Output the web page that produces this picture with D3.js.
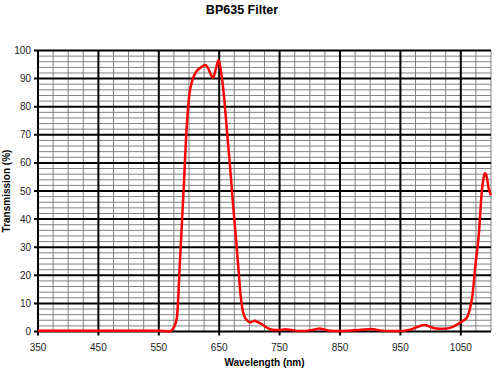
<!DOCTYPE html>
<html>
<head>
<meta charset="utf-8">
<script src="https://cdn.jsdelivr.net/npm/d3@7"></script>
<style>
html,body{margin:0;padding:0;background:#fff;}
svg{display:block;font-family:"Liberation Sans",Arial,sans-serif;}
</style>
</head>
<body>
<svg id="c" width="500" height="375"></svg>
<script>
const wavelength = [350,400,450,500,550,560,568,575,580,585,591,596,601,605,612,620,627,632,636,640,644,649,652,658,663,668,673,678,682,685,689,692,696,701,705,709,714,720,727,734,742,750,760,770,783,800,810,816,825,833,849,865,882,902,916,935,949,960,970,980,990,1000,1009,1020,1030,1040,1047,1055,1061,1065,1069,1074,1080,1085,1088,1090,1093,1096,1100];
const transmission = [0.3,0.3,0.3,0.3,0.3,0.2,0,1.5,5,25,50,72,85,89,92.5,94,94.8,93.5,91.5,90.3,93,96.6,94,83.6,71,58.6,45,32.6,22,13.7,7.5,5.3,4,3.3,3.6,3.8,3.3,2.7,1.6,0.8,0.5,0.5,0.8,0.5,0.2,0.4,0.8,1.1,0.6,0.3,0.2,0.3,0.5,0.9,0.4,0.2,0.2,0.4,0.9,1.8,2.3,1.6,1.1,1.0,1.2,2.0,2.9,4,5.3,8,12.4,23.1,35,50.3,55,56.3,55,51,48.5];
const xTicks = [350,450,550,650,750,850,950,1050];
const yTicks = [0,10,20,30,40,50,60,70,80,90,100];
const title = "BP635 Filter";
const xTitle = "Wavelength (nm)";
const yTitle = "Transmission (%)";

const svg = d3.select("#c");
const L = 38, R = 491, T = 50.5, B = 331.5;
const x = d3.scaleLinear().domain([350,1100]).range([L,R]);
const y = d3.scaleLinear().domain([0,100]).range([B,T]);

const g = svg.append("g");
// minor grid
const xMinor = d3.range(375,1101,25).filter(v => (v-350)%100 !== 0);
const yMinor = d3.range(2,100,2).filter(v => v%10 !== 0);
g.selectAll(".xm").data(xMinor).enter().append("line")
  .attr("x1",d=>x(d)).attr("x2",d=>x(d)).attr("y1",T).attr("y2",B)
  .attr("stroke","#808080").attr("stroke-width",1);
g.selectAll(".ym").data(yMinor).enter().append("line")
  .attr("x1",L).attr("x2",R).attr("y1",d=>y(d)).attr("y2",d=>y(d))
  .attr("stroke","#808080").attr("stroke-width",1);
// major grid
g.selectAll(".xM").data(xTicks).enter().append("line")
  .attr("x1",d=>x(d)).attr("x2",d=>x(d)).attr("y1",T).attr("y2",B+4)
  .attr("stroke","#000").attr("stroke-width",2);
g.selectAll(".yM").data(yTicks).enter().append("line")
  .attr("x1",L-4).attr("x2",R).attr("y1",d=>y(d)).attr("y2",d=>y(d))
  .attr("stroke","#000").attr("stroke-width",2);

// tick labels
svg.append("g").selectAll("text").data(xTicks).enter().append("text")
  .attr("x",d=>x(d)).attr("y",B+19).attr("text-anchor","middle")
  .attr("font-size",10).attr("fill","#222").text(d=>d);
svg.append("g").selectAll("text").data(yTicks).enter().append("text")
  .attr("x",L-7).attr("y",d=>y(d)+3.5).attr("text-anchor","end")
  .attr("font-size",10).attr("fill","#222").text(d=>d);

// curve
const data = wavelength.map((w,i)=>[w,transmission[i]]);
const line = d3.line().x(d=>x(d[0])).y(d=>y(d[1])).curve(d3.curveMonotoneX);
svg.append("path").datum(data).attr("d",line)
  .attr("fill","none").attr("stroke","#ff0000").attr("stroke-width",2.5)
  .attr("stroke-linejoin","round");

// titles
svg.append("text").attr("x",242).attr("y",14).attr("text-anchor","middle")
  .attr("font-size",12.5).attr("font-weight","bold").attr("fill","#000").text(title);
svg.append("text").attr("x",(L+R)/2).attr("y",366).attr("text-anchor","middle")
  .attr("font-size",10).attr("font-weight","bold").attr("fill","#000").text(xTitle);
svg.append("text").attr("transform",`translate(10,${(T+B)/2}) rotate(-90)`)
  .attr("text-anchor","middle").attr("font-size",10).attr("font-weight","bold")
  .attr("fill","#000").text(yTitle);
</script>
</body>
</html>
